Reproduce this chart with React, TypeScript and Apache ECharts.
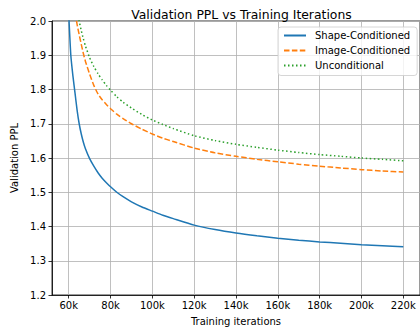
import React, { useEffect, useRef } from 'react';
import * as echarts from 'echarts';

const iterations = [60000, 61000, 62000, 63000, 64000, 65000, 66000, 67000, 68000, 70000, 72000, 74000, 76000, 78000, 80000, 83000, 86000, 90000, 95000, 100000, 105000, 110000, 120000, 130000, 140000, 150000, 160000, 170000, 180000, 190000, 200000, 210000, 220000];
const shapeConditioned = [2.02, 1.9, 1.84, 1.79, 1.74, 1.7, 1.67, 1.646, 1.627, 1.598, 1.576, 1.557, 1.541, 1.528, 1.516, 1.5, 1.487, 1.472, 1.457, 1.445, 1.433, 1.423, 1.404, 1.391, 1.381, 1.373, 1.366, 1.36, 1.355, 1.351, 1.347, 1.344, 1.341];
const imageConditioned = [2.16, 2.11, 2.07, 2.03, 1.99, 1.96, 1.932, 1.905, 1.882, 1.845, 1.812, 1.787, 1.77, 1.756, 1.744, 1.728, 1.715, 1.7, 1.684, 1.67, 1.658, 1.648, 1.629, 1.615, 1.605, 1.596, 1.589, 1.582, 1.576, 1.571, 1.566, 1.562, 1.559];
const unconditional = [2.2, 2.15, 2.11, 2.07, 2.03, 2.0, 1.972, 1.948, 1.927, 1.893, 1.867, 1.846, 1.828, 1.812, 1.798, 1.779, 1.763, 1.746, 1.727, 1.711, 1.698, 1.686, 1.665, 1.651, 1.64, 1.631, 1.623, 1.616, 1.61, 1.605, 1.6, 1.596, 1.592];
const xTicks = [60000, 80000, 100000, 120000, 140000, 160000, 180000, 200000, 220000];

const FONT = 'DejaVu Sans';

export default function App() {
  const ref = useRef<HTMLDivElement>(null);
  useEffect(() => {
    document.body.style.margin = '0';
    const chart = echarts.init(ref.current!, null, { renderer: 'svg' });
    const pairs = (ys: number[]) => iterations.map((x, i) => [x, ys[i]]);
    chart.setOption({
      animation: false,
      textStyle: { fontFamily: FONT },
      title: {
        text: 'Validation PPL vs Training Iterations',
        left: 236.5,
        textAlign: 'center',
        top: 3,
        textStyle: { fontFamily: FONT, fontSize: 12.4, fontWeight: 'normal', color: '#000' },
      },
      grid: {
        left: 52, top: 21, right: -1.3, bottom: 38,
        show: true, borderColor: '#000', borderWidth: 0.8, backgroundColor: 'transparent',
      },
      legend: {
        orient: 'vertical',
        left: 278, top: 27,
        padding: [2.5, 7, 4, 5],
        itemGap: 3,
        itemWidth: 22, itemHeight: 12,
        backgroundColor: 'rgba(255,255,255,0.8)',
        borderColor: '#cccccc', borderWidth: 0.8, borderRadius: 3,
        itemStyle: { opacity: 0 },
        textStyle: { fontFamily: FONT, fontSize: 10, lineHeight: 12, color: '#000', padding: [0, 0, 0, 4] },
        data: ['Shape-Conditioned', 'Image-Conditioned', 'Unconditional'],
      },
      xAxis: {
        type: 'value',
        min: 52000, max: 228000,
        name: 'Training iterations',
        nameLocation: 'middle', nameGap: 21,
        nameTextStyle: { fontFamily: FONT, fontSize: 10, color: '#000' },
        axisLine: { show: true, lineStyle: { color: '#000', width: 0.8 } },
        axisTick: { show: true, length: 3.5, lineStyle: { color: '#000', width: 0.8 }, customValues: xTicks },
        axisLabel: { fontFamily: FONT, fontSize: 10, color: '#000', margin: 5, customValues: xTicks, formatter: (v: number) => `${Math.round(v / 1000)}k` },
        splitLine: { show: true, lineStyle: { color: '#b0b0b0', width: 0.8 } },
      },
      yAxis: {
        type: 'value',
        min: 1.2, max: 2.0, interval: 0.1,
        name: 'Validation PPL',
        nameLocation: 'middle', nameGap: 28.5, nameRotate: 90,
        nameTextStyle: { fontFamily: FONT, fontSize: 10, color: '#000' },
        axisLine: { show: true, lineStyle: { color: '#000', width: 0.8 } },
        axisTick: { show: true, length: 3.5, lineStyle: { color: '#000', width: 0.8 } },
        axisLabel: { fontFamily: FONT, fontSize: 10, color: '#000', margin: 6, formatter: (v: number) => v.toFixed(1) },
        splitLine: { show: true, lineStyle: { color: '#b0b0b0', width: 0.8 } },
      },
      series: [
        {
          name: 'Shape-Conditioned', type: 'line', data: pairs(shapeConditioned),
          showSymbol: false, symbol: 'none', smooth: 0.2, clip: true,
          itemStyle: { color: '#1f77b4' },
          lineStyle: { color: '#1f77b4', width: 1.5 },
        },
        {
          name: 'Image-Conditioned', type: 'line', data: pairs(imageConditioned),
          showSymbol: false, symbol: 'none', smooth: 0.2, clip: true,
          itemStyle: { color: '#ff7f0e' },
          lineStyle: { color: '#ff7f0e', width: 1.5, type: [5.5, 2.4] },
        },
        {
          name: 'Unconditional', type: 'line', data: pairs(unconditional),
          showSymbol: false, symbol: 'none', smooth: 0.2, clip: true,
          itemStyle: { color: '#2ca02c' },
          lineStyle: { color: '#2ca02c', width: 1.5, type: [1.5, 2.5] },
        },
      ],
    });
    return () => chart.dispose();
  }, []);
  return <div ref={ref} style={{ width: 420, height: 333 }} />;
}
